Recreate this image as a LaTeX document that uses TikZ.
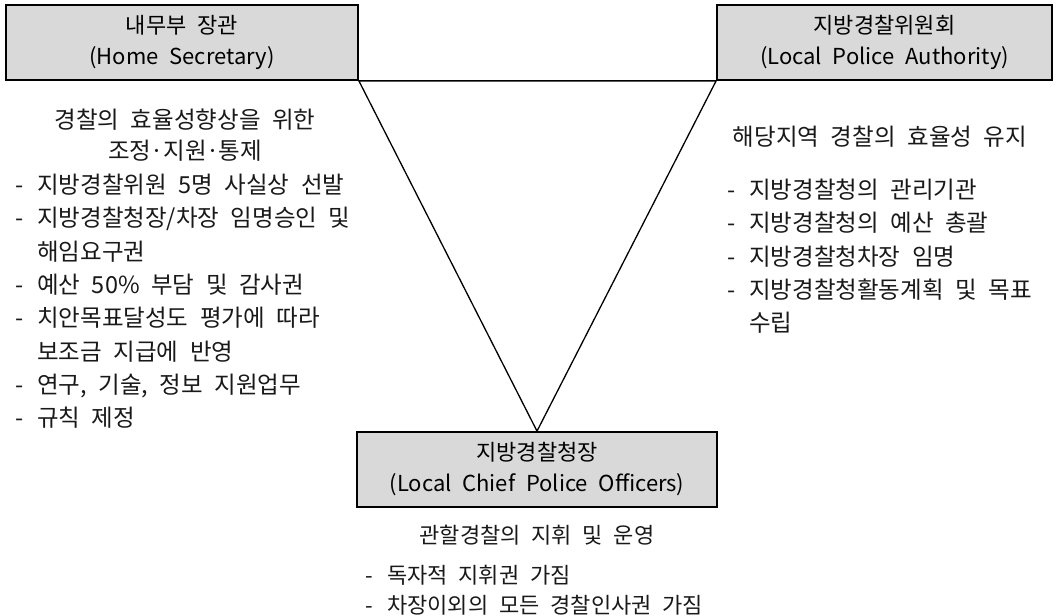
\documentclass[tikz,border=0pt]{standalone}
\usepackage{fontspec}
\setmainfont{Noto Sans CJK KR}[WordSpace=2.2]
\begin{document}
\begin{tikzpicture}[x=1pt,y=-1pt,
  box/.style={draw=black,line width=1.8pt,fill=gray!30,inner sep=0pt,align=center,font=\fontsize{22}{31}\selectfont},
  txt/.style={inner sep=0pt,anchor=base west,font=\fontsize{23.5}{26}\selectfont,text=black!90},
  ctr/.style={inner sep=0pt,anchor=base,font=\fontsize{23.5}{26}\selectfont,text=black!90},
  small/.style={font=\fontsize{22}{26}\selectfont},
  tri/.style={draw=black,line width=1.3pt,line join=miter}]
\useasboundingbox (0,0) rectangle (1056,615);
% boxes
\node[box,minimum width=352pt,minimum height=75pt] (hs) at (182,42.5) {내무부 장관\\(Home Secretary)};
\node[box,minimum width=335pt,minimum height=75pt] (lpa) at (884.5,42.5) {지방경찰위원회\\(Local Police Authority)};
\node[box,minimum width=360pt,minimum height=75pt] (lc) at (537,469.5) {지방경찰청장\\(Local Chief Police Officers)};
% triangle
\draw[tri] (hs.south east) -- (lpa.south west) -- (lc.north) -- cycle;
% left texts
\newcommand{\dsh}{\makebox[22pt][l]{-}}
\newcommand{\ind}{\hspace*{22pt}}
\newcommand{\mdot}{\makebox[12pt]{·}}
\node[ctr] (h1) at (185,128.5) {경찰의 효율성향상을 위한};
\node[ctr] (h2) at (185,159.5) {조정\mdot 지원\mdot 통제};
\node[txt] (a1) at (15,193.5) {\dsh 지방경찰위원 5명 사실상 선발};
\node[txt] (a2) at (15,226.8) {\dsh 지방경찰청장/차장 임명승인 및};
\node[txt] (a3) at (15,260.1) {\ind 해임요구권};
\node[txt] (a4) at (15,293.5) {\dsh 예산 50\% 부담 및 감사권};
\node[txt] (a5) at (15,326.8) {\dsh 치안목표달성도 평가에 따라};
\node[txt] (a6) at (15,360.1) {\ind 보조금 지급에 반영};
\node[txt] (a7) at (15,393.5) {\dsh 연구, 기술, 정보 지원업무};
\node[txt] (a8) at (15,426.8) {\dsh 규칙 제정};
% right texts
\node[ctr] (r0) at (880,145.5) {해당지역 경찰의 효율성 유지};
\node[txt] (b1) at (727,198.5) {\dsh 지방경찰청의 관리기관};
\node[txt] (b2) at (727,231.8) {\dsh 지방경찰청의 예산 총괄};
\node[txt] (b3) at (727,265.1) {\dsh 지방경찰청차장 임명};
\node[txt] (b4) at (727,298.5) {\dsh 지방경찰청활동계획 및 목표};
\node[txt] (b5) at (727,331.8) {\ind 수립};
% bottom texts
\node[ctr,small] (c0) at (537,543) {관할경찰의 지휘 및 운영};
\node[txt,small] (c1) at (365,583) {\dsh 독자적 지휘권 가짐};
\node[txt,small] (c2) at (365,613) {\dsh 차장이외의 모든 경찰인사권 가짐};
\end{tikzpicture}
\end{document}
